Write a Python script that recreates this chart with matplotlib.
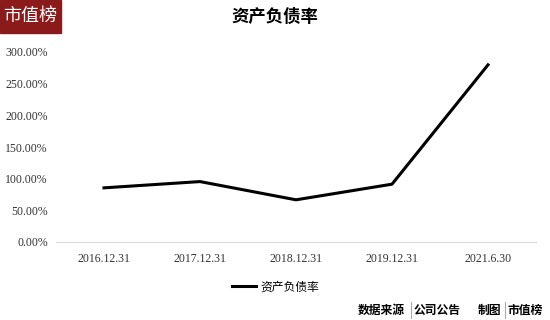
import matplotlib.pyplot as plt
from matplotlib.patches import Rectangle

plt.rcParams['font.family'] = ['Noto Sans CJK SC', 'DejaVu Sans']

dates = ["2016.12.31", "2017.12.31", "2018.12.31", "2019.12.31", "2021.6.30"]
ratio = [85.5, 95.4, 66.6, 91.3, 279.7]
yticks = [0, 50, 100, 150, 200, 250, 300]
ytick_labels = [f"{v:.2f}%" for v in yticks]

fig = plt.figure(figsize=(5.5, 3.2), dpi=100)
ax = fig.add_axes([56 / 550, 1 - 242 / 320, 480 / 550, 190 / 320])

x = list(range(len(dates)))
ax.plot(x, ratio, color="black", linewidth=2.2, label="资产负债率")
ax.set_xlim(-0.5, len(dates) - 0.5)
ax.set_ylim(0, 300)
ax.set_yticks(yticks)
ax.set_yticklabels(ytick_labels, fontsize=8.5, family="Liberation Serif", color="#333333")
ax.set_xticks(x)
ax.set_xticklabels(dates, fontsize=8.5, family="Liberation Serif", color="#333333")
ax.tick_params(length=0, pad=6)
ax.tick_params(axis="x", pad=8)
for s in ["top", "right", "left"]:
    ax.spines[s].set_visible(False)
ax.spines["bottom"].set_color("#d9d9d9")

fig.text(0.5, 1 - 17 / 320, "资产负债率", ha="center", va="center",
         fontsize=12.5, fontweight="bold")

# logo
fig.patches.append(Rectangle((0, 1 - 33 / 320), 61 / 550, 33 / 320,
                             transform=fig.transFigure, color="#8b1a1a"))
fig.text(30 / 550, 1 - 16 / 320, "市值榜", ha="center", va="center",
         fontsize=13, color="white")

# legend
fig.legend(loc="center", bbox_to_anchor=(276 / 550, 1 - 287 / 320), frameon=False,
           fontsize=8.5, handlelength=2.0, handletextpad=0.4)

# footer
fy = 1 - 310 / 320
fig.text(358 / 550, fy, "数据来源", ha="left", va="center", fontsize=8.5, fontweight="bold")
fig.text(414 / 550, fy, "公司公告", ha="left", va="center", fontsize=8.5, fontweight="bold")
fig.text(478 / 550, fy, "制图", ha="left", va="center", fontsize=8.5, fontweight="bold")
fig.text(508 / 550, fy, "市值榜", ha="left", va="center", fontsize=8.5, fontweight="bold")
for sx in [411, 505]:
    fig.add_artist(plt.Line2D([sx / 550, sx / 550], [1 - 302 / 320, 1 - 318 / 320],
                              color="#aaaaaa", linewidth=0.8, transform=fig.transFigure))

fig.savefig("out.png", dpi=100)
